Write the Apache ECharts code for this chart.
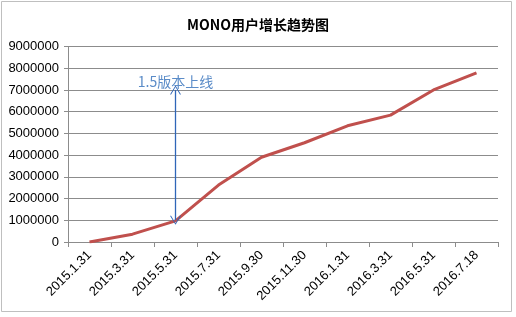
<!DOCTYPE html>
<html><head><meta charset="utf-8">
<script src="https://cdn.jsdelivr.net/npm/echarts@6/dist/echarts.min.js"></script>
<style>html,body{margin:0;padding:0;background:#fff}#c{width:516px;height:317px}</style>
</head><body><div id="c"></div>
<script>
const title = 'MONO用户增长趋势图';
const categories = ['2015.1.31','2015.3.31','2015.5.31','2015.7.31','2015.9.30','2015.11.30','2016.1.31','2016.3.31','2016.5.31','2016.7.18'];
const users = [0, 360000, 970000, 2620000, 3900000, 4570000, 5350000, 5840000, 7000000, 7790000];
const annotationText = '1.5版本上线';
const annotationCategory = '2015.5.31';
const annotationFrom = 7000000;
const annotationTo = 1000000;

const chart = echarts.init(document.getElementById('c'), null, {renderer: 'canvas'});
const chevron = 'path://M0,10 L5,0 L10,10 L9,10 L5,1.6 L1,10 Z';
chart.setOption({
  animation: false,
  title: {
    text: title, left: 'center', top: 13,
    textStyle: {fontFamily: 'Noto Sans CJK SC', fontSize: 14, fontWeight: 'bold', color: '#000'}
  },
  graphic: [{
    type: 'rect', shape: {x: 1.5, y: 1.5, width: 510, height: 310},
    style: {fill: 'none', stroke: '#BFBFBF', lineWidth: 1}, silent: true
  }],
  grid: {left: 68, right: 18, top: 46.5, bottom: 75},
  xAxis: {
    type: 'category', data: categories, boundaryGap: true,
    axisLine: {lineStyle: {color: '#8C8C8C'}},
    axisTick: {show: true, length: 5, interval: 0, lineStyle: {color: '#8C8C8C'}},
    axisLabel: {rotate: 45, interval: 0, margin: 11, fontSize: 13, color: '#000', fontFamily: 'Liberation Sans'}
  },
  yAxis: {
    type: 'value', min: 0, max: 9000000, interval: 1000000,
    axisLine: {show: true, lineStyle: {color: '#8C8C8C'}},
    axisTick: {show: true, length: 4, lineStyle: {color: '#8C8C8C'}},
    splitLine: {lineStyle: {color: '#8C8C8C'}},
    axisLabel: {fontSize: 13, color: '#000', margin: 9, fontFamily: 'Liberation Sans',
      formatter: v => String(v)}
  },
  series: [{
    type: 'line', data: users, symbol: 'none',
    lineStyle: {color: '#C0504D', width: 3},
    markLine: {
      silent: true,
      symbol: [chevron, chevron], symbolSize: [11, 9],
      lineStyle: {color: '#2F66B8', width: 1.3, type: 'solid', opacity: 1},
      label: {show: true, position: 'start', distance: 1, formatter: annotationText,
        color: '#5B8CC8', fontSize: 14, fontFamily: 'Noto Sans CJK SC'},
      data: [[{coord: [annotationCategory, annotationFrom]}, {coord: [annotationCategory, annotationTo]}]]
    }
  }]
});
</script></body></html>
